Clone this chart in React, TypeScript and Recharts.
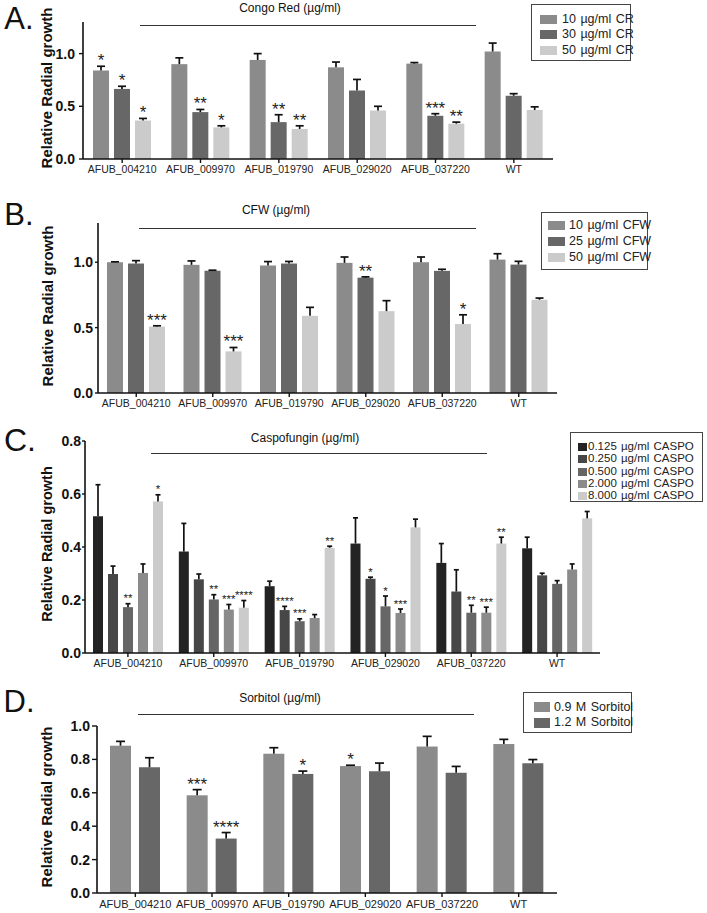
import { Bar, BarChart, XAxis, YAxis } from "recharts";

const FONT = "'Liberation Sans', Arial, sans-serif";

const genes = ["AFUB_004210", "AFUB_009970", "AFUB_019790", "AFUB_029020", "AFUB_037220", "WT"];

// A — Congo Red
const cr10Mean = [0.84, 0.9, 0.94, 0.87, 0.905, 1.02];
const cr10Err = [0.04, 0.06, 0.06, 0.05, 0.01, 0.08];
const cr10Stars = ["*", "", "", "", "", ""];
const cr30Mean = [0.665, 0.445, 0.35, 0.65, 0.41, 0.6];
const cr30Err = [0.025, 0.025, 0.07, 0.105, 0.02, 0.02];
const cr30Stars = ["*", "**", "**", "", "***", ""];
const cr50Mean = [0.365, 0.3, 0.285, 0.46, 0.335, 0.465];
const cr50Err = [0.02, 0.015, 0.03, 0.04, 0.015, 0.03];
const cr50Stars = ["*", "*", "**", "", "**", ""];

// B — CFW
const cfw10Mean = [1.0, 0.98, 0.975, 0.995, 1.0, 1.02];
const cfw10Err = [0.003, 0.03, 0.03, 0.045, 0.04, 0.045];
const cfw10Stars = ["", "", "", "", "", ""];
const cfw25Mean = [0.99, 0.935, 0.99, 0.882, 0.934, 0.982];
const cfw25Err = [0.022, 0.004, 0.016, 0.006, 0.012, 0.025];
const cfw25Stars = ["", "", "", "**", "", ""];
const cfw50Mean = [0.508, 0.318, 0.59, 0.626, 0.528, 0.713];
const cfw50Err = [0.006, 0.03, 0.065, 0.08, 0.07, 0.013];
const cfw50Stars = ["***", "***", "", "", "*", ""];

// C — Caspofungin
const cas0125Mean = [0.516, 0.383, 0.252, 0.413, 0.34, 0.395];
const cas0125Err = [0.119, 0.106, 0.019, 0.097, 0.073, 0.042];
const cas0125Stars = ["", "", "", "", "", ""];
const cas025Mean = [0.298, 0.278, 0.162, 0.28, 0.232, 0.293];
const cas025Err = [0.03, 0.02, 0.014, 0.006, 0.082, 0.008];
const cas025Stars = ["", "", "****", "*", "", ""];
const cas05Mean = [0.173, 0.202, 0.12, 0.176, 0.152, 0.261];
const cas05Err = [0.013, 0.018, 0.009, 0.039, 0.028, 0.012];
const cas05Stars = ["**", "**", "***", "*", "**", ""];
const cas2Mean = [0.302, 0.164, 0.132, 0.151, 0.152, 0.315];
const cas2Err = [0.034, 0.019, 0.013, 0.015, 0.021, 0.021];
const cas2Stars = ["", "***", "", "***", "***", ""];
const cas8Mean = [0.572, 0.171, 0.397, 0.474, 0.413, 0.508];
const cas8Err = [0.025, 0.027, 0.006, 0.031, 0.024, 0.026];
const cas8Stars = ["*", "****", "**", "", "**", ""];

// D — Sorbitol
const sor09Mean = [0.882, 0.585, 0.834, 0.76, 0.877, 0.892];
const sor09Err = [0.026, 0.034, 0.036, 0.005, 0.061, 0.028];
const sor09Stars = ["", "***", "", "*", "", ""];
const sor12Mean = [0.753, 0.326, 0.713, 0.729, 0.72, 0.777];
const sor12Err = [0.057, 0.036, 0.017, 0.049, 0.038, 0.022];
const sor12Stars = ["", "****", "*", "", "", ""];

type Series = { name: string; color: string; mean: number[]; err: number[]; stars: string[] };

const crSeries: Series[] = [
  { name: "10 µg/ml CR", color: "#8b8b8b", mean: cr10Mean, err: cr10Err, stars: cr10Stars },
  { name: "30 µg/ml CR", color: "#676767", mean: cr30Mean, err: cr30Err, stars: cr30Stars },
  { name: "50 µg/ml CR", color: "#cbcbcb", mean: cr50Mean, err: cr50Err, stars: cr50Stars },
];
const cfwSeries: Series[] = [
  { name: "10 µg/ml CFW", color: "#8b8b8b", mean: cfw10Mean, err: cfw10Err, stars: cfw10Stars },
  { name: "25 µg/ml CFW", color: "#676767", mean: cfw25Mean, err: cfw25Err, stars: cfw25Stars },
  { name: "50 µg/ml CFW", color: "#cbcbcb", mean: cfw50Mean, err: cfw50Err, stars: cfw50Stars },
];
const casSeries: Series[] = [
  { name: "0.125 µg/ml CASPO", color: "#232323", mean: cas0125Mean, err: cas0125Err, stars: cas0125Stars },
  { name: "0.250 µg/ml CASPO", color: "#474747", mean: cas025Mean, err: cas025Err, stars: cas025Stars },
  { name: "0.500 µg/ml CASPO", color: "#666666", mean: cas05Mean, err: cas05Err, stars: cas05Stars },
  { name: "2.000 µg/ml CASPO", color: "#8b8b8b", mean: cas2Mean, err: cas2Err, stars: cas2Stars },
  { name: "8.000 µg/ml CASPO", color: "#cbcbcb", mean: cas8Mean, err: cas8Err, stars: cas8Stars },
];
const sorSeries: Series[] = [
  { name: "0.9 M Sorbitol", color: "#8b8b8b", mean: sor09Mean, err: sor09Err, stars: sor09Stars },
  { name: "1.2 M Sorbitol", color: "#676767", mean: sor12Mean, err: sor12Err, stars: sor12Stars },
];

function buildRows(series: Series[]) {
  return genes.map((g, i) => {
    const row: Record<string, any> = { name: g };
    series.forEach((s, k) => {
      row["m" + k] = s.mean[i];
      row["e" + k] = s.err[i];
      row["s" + k] = s.stars[i];
    });
    return row;
  });
}

// bar + upward error bar + significance stars, using the bar's own scaled height
function barShape(k: number, cap: number, starSize: number, starGap: number) {
  return (props: any) => {
    const { x, y, width, height, fill, payload } = props;
    const v = payload["m" + k];
    const e = payload["e" + k];
    const ppu = v ? height / v : 0;
    const ey = y - e * ppu;
    const cx = x + width / 2;
    const star = payload["s" + k];
    return (
      <g>
        <rect x={x} y={y} width={width} height={height} fill={fill} />
        <line x1={cx} x2={cx} y1={y} y2={ey} stroke="#111" strokeWidth={1.7} />
        <line x1={cx - cap / 2} x2={cx + cap / 2} y1={ey} y2={ey} stroke="#111" strokeWidth={1.7} />
        {star ? (
          <text x={cx} y={ey - starGap} textAnchor="middle" fontSize={starSize} fontFamily={FONT} fill="#222">
            {star}
          </text>
        ) : null}
      </g>
    );
  };
}

type PanelProps = {
  series: Series[];
  top: number;
  width: number;
  height: number;
  margin: { top: number; right: number; bottom: number; left: number };
  xHeight: number;
  domain: [number, number];
  ticks: number[];
  barSize: number;
  barGap: number;
  cap: number;
  starSize: number;
  starGap: number;
  yTickSize: number;
  yTickMargin: number;
  xFont: number;
};

function Panel(p: PanelProps) {
  const rows = buildRows(p.series);
  return (
    <div style={{ position: "absolute", left: 0, top: p.top }}>
      <BarChart
        width={p.width}
        height={p.height}
        data={rows}
        margin={p.margin}
        barSize={p.barSize}
        barGap={p.barGap}
      >
        <XAxis
          dataKey="name"
          interval={0}
          height={p.xHeight}
          tickSize={4}
          tickMargin={3}
          axisLine={{ stroke: "#111", strokeWidth: 1.6 }}
          tickLine={{ stroke: "#111", strokeWidth: 1.4 }}
          tick={{ fontSize: p.xFont, fill: "#222", fontFamily: FONT }}
        />
        <YAxis
          width={50}
          domain={p.domain}
          ticks={p.ticks}
          tickFormatter={(v: number) => v.toFixed(1)}
          tickSize={p.yTickSize}
          tickMargin={p.yTickMargin}
          axisLine={{ stroke: "#111", strokeWidth: 1.6 }}
          tickLine={{ stroke: "#111", strokeWidth: 1.4 }}
          tick={{ fontSize: 14, fontWeight: "bold", fill: "#111", fontFamily: FONT }}
        />
        {p.series.map((s, k) => (
          <Bar
            key={s.name}
            dataKey={"m" + k}
            name={s.name}
            fill={s.color}
            isAnimationActive={false}
            shape={barShape(k, p.cap, p.starSize, p.starGap)}
          />
        ))}
      </BarChart>
    </div>
  );
}

type LegendProps = {
  series: Series[];
  left: number;
  top: number;
  width: number;
  height: number;
  first: number;
  pitch: number;
  swX: number;
  swW: number;
  swH: number;
  textX: number;
  font: number;
};

function LegendBox(l: LegendProps) {
  return (
    <div
      style={{
        position: "absolute",
        left: l.left,
        top: l.top,
        width: l.width,
        height: l.height,
        border: "1px solid #444",
        boxSizing: "border-box",
        fontFamily: FONT,
        fontSize: l.font,
        color: "#222",
      }}
    >
      {l.series.map((s, i) => (
        <div key={s.name}>
          <div
            style={{
              position: "absolute",
              left: l.swX,
              top: l.first + i * l.pitch - l.swH / 2,
              width: l.swW,
              height: l.swH,
              background: s.color,
            }}
          />
          <div
            style={{
              position: "absolute",
              left: l.textX,
              top: l.first + i * l.pitch - l.font * 0.6,
              lineHeight: `${l.font * 1.2}px`,
              whiteSpace: "pre",
              wordSpacing: 1,
            }}
          >
            {s.name}
          </div>
        </div>
      ))}
    </div>
  );
}

function Text({ x, y, size, children, bold, rotate }: any) {
  return (
    <div
      style={{
        position: "absolute",
        left: x,
        top: y,
        transform: `translate(-50%, -50%)${rotate ? " rotate(-90deg)" : ""}`,
        whiteSpace: "nowrap",
        fontFamily: FONT,
        fontSize: size,
        fontWeight: bold ? "bold" : "normal",
        color: "#111",
        lineHeight: 1,
      }}
    >
      {children}
    </div>
  );
}

function HLine({ x1, x2, y }: { x1: number; x2: number; y: number }) {
  return <div style={{ position: "absolute", left: x1, top: y, width: x2 - x1, height: 1, background: "#333" }} />;
}

export default function App() {
  return (
    <div style={{ position: "absolute", left: 0, top: 0, width: 707, height: 913, background: "#fff", overflow: "hidden" }}>
      {/* A */}
      <Panel
        series={crSeries}
        top={0}
        width={565}
        height={189}
        margin={{ top: 22, right: 12, bottom: 0, left: 33 }}
        xHeight={30}
        domain={[0, 1.3]}
        ticks={[0, 0.5, 1.0]}
        barSize={16}
        barGap={5}
        cap={8}
        starSize={17}
        starGap={0}
        yTickSize={4}
        yTickMargin={4}
        xFont={10.5}
      />
      <Text x={19} y={18} size={31}>A.</Text>
      <Text x={46} y={88} size={15} bold rotate>Relative Radial growth</Text>
      <Text x={290} y={8} size={12}>Congo Red (µg/ml)</Text>
      <HLine x1={140} x2={476} y={25} />
      <LegendBox series={crSeries} left={531} top={4} width={100} height={57} first={14} pitch={15.5} swX={8} swW={17} swH={9} textX={30} font={12.5} />

      {/* B */}
      <Panel
        series={cfwSeries}
        top={200}
        width={570}
        height={223}
        margin={{ top: 23, right: 13, bottom: 0, left: 48 }}
        xHeight={30}
        domain={[0, 1.3]}
        ticks={[0, 0.5, 1.0]}
        barSize={16}
        barGap={5}
        cap={8}
        starSize={17}
        starGap={0}
        yTickSize={3}
        yTickMargin={2}
        xFont={10.5}
      />
      <Text x={19} y={214} size={31}>B.</Text>
      <Text x={47} y={306} size={15} bold rotate>Relative Radial growth</Text>
      <Text x={276} y={210} size={12}>CFW (µg/ml)</Text>
      <HLine x1={139} x2={476} y={228} />
      <LegendBox series={cfwSeries} left={541} top={212} width={107} height={58} first={12} pitch={16} swX={6} swW={17} swH={9} textX={27} font={12.5} />

      {/* C */}
      <Panel
        series={casSeries}
        top={420}
        width={610}
        height={263}
        margin={{ top: 21, right: 10, bottom: 0, left: 35 }}
        xHeight={30}
        domain={[0, 0.8]}
        ticks={[0, 0.2, 0.4, 0.6, 0.8]}
        barSize={10}
        barGap={5}
        cap={5}
        starSize={11.5}
        starGap={1.5}
        yTickSize={3}
        yTickMargin={1}
        xFont={10.5}
      />
      <Text x={20} y={440} size={32}>C.</Text>
      <Text x={47} y={544} size={14.5} bold rotate>Relative Radial growth</Text>
      <Text x={305} y={438} size={12}>Caspofungin (µg/ml)</Text>
      <HLine x1={151} x2={487} y={453} />
      <LegendBox series={casSeries} left={570} top={432} width={133} height={70} first={14} pitch={12.3} swX={7} swW={9} swH={8} textX={17} font={11.5} />

      {/* D */}
      <Panel
        series={sorSeries}
        top={700}
        width={570}
        height={213}
        margin={{ top: 26, right: 13, bottom: 0, left: 47 }}
        xHeight={20}
        domain={[0, 1.0]}
        ticks={[0, 0.2, 0.4, 0.6, 0.8, 1.0]}
        barSize={21}
        barGap={8}
        cap={9}
        starSize={17}
        starGap={0}
        yTickSize={5}
        yTickMargin={2}
        xFont={11}
      />
      <Text x={19} y={701} size={31}>D.</Text>
      <Text x={46} y={807} size={15} bold rotate>Relative Radial growth</Text>
      <Text x={280} y={698} size={12}>Sorbitol (µg/ml)</Text>
      <HLine x1={138} x2={474} y={714} />
      <LegendBox series={sorSeries} left={523} top={692} width={109} height={41} first={14} pitch={15.7} swX={10} swW={16} swH={10} textX={30} font={12.5} />
    </div>
  );
}
